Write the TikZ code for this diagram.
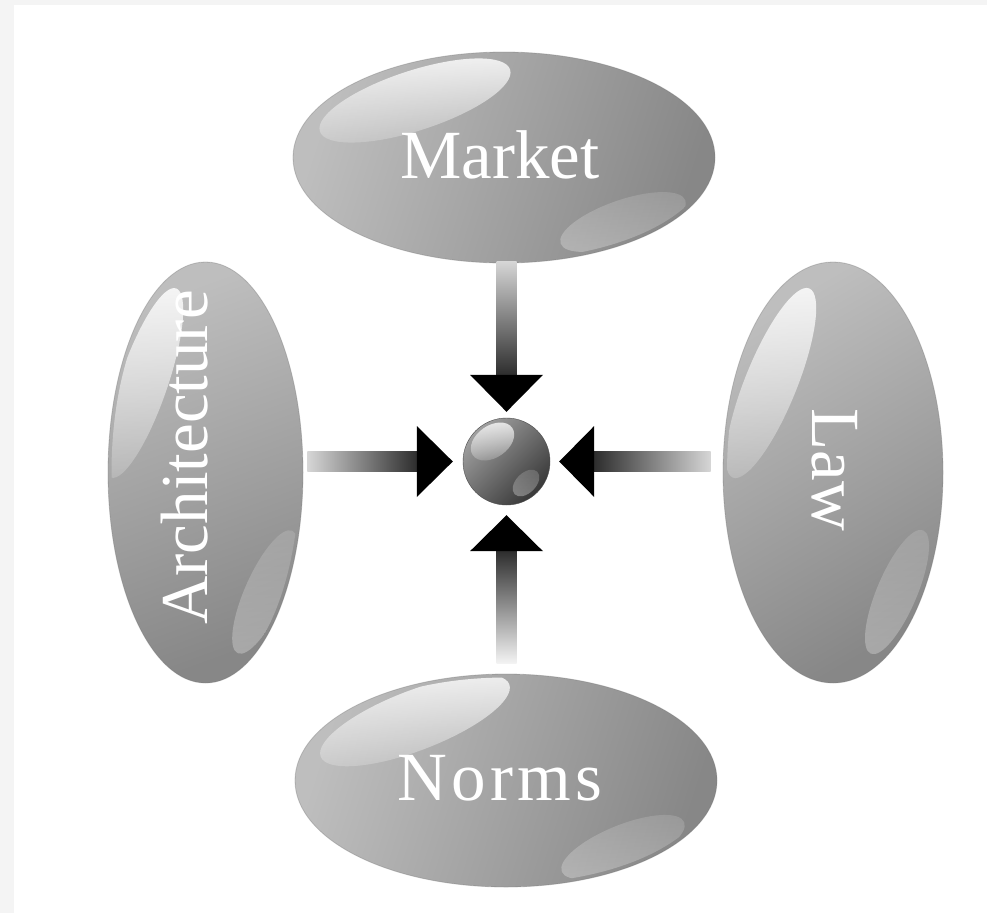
\documentclass[tikz,border=0pt]{standalone}
\usepackage{fontspec}
\setmainfont{Liberation Serif}
\usetikzlibrary{shapes.geometric,calc,fadings}
\definecolor{framegray}{HTML}{F4F4F4}
\definecolor{pillL}{HTML}{BEBEBE}
\definecolor{pillD}{HTML}{878787}
\definecolor{shaftD}{HTML}{2C2C2C}
\definecolor{shaftL}{HTML}{D6D6D6}
\definecolor{shaftW}{HTML}{F4F4F4}
\definecolor{sphL}{HTML}{A0A0A0}
\definecolor{sphD}{HTML}{383838}
\tikzfading[name=glossfade, top color=transparent!0, bottom color=transparent!80]
\tikzfading[name=sheenfade, top color=transparent!55, bottom color=transparent!5]
\begin{document}
\begin{tikzpicture}[x=1pt,y=-1pt,
  pill/.style={ellipse, inner sep=0pt, left color=pillL, right color=pillD,
    draw=black!55, draw opacity=0.35, line width=0.8pt},
  lbl/.style={text=white, font=\fontsize{69}{69}\selectfont, inner sep=0pt, anchor=base},
  gloss/.style={white, fill opacity=0.85, path fading=glossfade},
  sheen/.style={white, fill opacity=0.3, path fading=sheenfade},
  head/.style={fill=black},
]
% frame
\fill[framegray] (0,0) rectangle (987,913);
\fill[white] (14,5) rectangle (987,913);
\useasboundingbox (0,0) rectangle (987,913);

% pills
\node[pill, shading angle=72, minimum width=422pt, minimum height=211pt] (mkt) at (504,157.5) {};
\node[pill, shading angle=72, minimum width=422pt, minimum height=213pt] (nrm) at (506,780.5) {};
\node[pill, shading angle=20, minimum width=195pt, minimum height=421pt] (arc) at (205.5,472.5) {};
\node[pill, shading angle=30, minimum width=220pt, minimum height=421pt] (law) at (833,472.5) {};

% gloss highlights (clipped to each pill)
\begin{scope}
\clip (mkt.center) ellipse [x radius=207, y radius=102];
\coordinate (mktA) at ($(mkt.center)+(-89,-57)$);
\coordinate (mktB) at ($(mkt.center)+(119,64.5)$);
\fill[gloss, rotate around={18:(mktA)}] (mktA) ellipse [x radius=100, y radius=30];
\fill[sheen, rotate around={19:(mktB)}] (mktB) ellipse [x radius=66, y radius=22];
\end{scope}

\begin{scope}
\clip (nrm.center) ellipse [x radius=207, y radius=103];
\coordinate (nrmA) at ($(nrm.center)+(-91,-60)$);
\coordinate (nrmB) at ($(nrm.center)+(117,66.5)$);
\fill[gloss, rotate around={21:(nrmA)}] (nrmA) ellipse [x radius=101, y radius=30];
\fill[sheen, rotate around={22:(nrmB)}] (nrmB) ellipse [x radius=66, y radius=22];
\end{scope}

\begin{scope}
\clip (arc.center) ellipse [x radius=94, y radius=207];
\coordinate (arcA) at ($(arc.center)+(-62,-89.5)$);
\coordinate (arcB) at ($(arc.center)+(59.5,119.5)$);
\fill[gloss, rotate around={71:(arcA)}] (arcA) ellipse [x radius=100, y radius=24];
\fill[sheen, rotate around={66:(arcB)}] (arcB) ellipse [x radius=67, y radius=20];
\end{scope}

\begin{scope}
\clip (law.center) ellipse [x radius=106, y radius=207];
\coordinate (lawA) at ($(law.center)+(-62,-89.5)$);
\coordinate (lawB) at ($(law.center)+(64,119.5)$);
\fill[gloss, rotate around={68:(lawA)}] (lawA) ellipse [x radius=102, y radius=26];
\fill[sheen, rotate around={67:(lawB)}] (lawB) ellipse [x radius=67, y radius=20];
\end{scope}

% labels
\node[lbl] (mktT) at (500,178) {Market};
\node[lbl] (nrmT) at (500,800) {\addfontfeatures{LetterSpace=6}Norms};
\node[lbl, rotate=90, font=\fontsize{67}{67}\selectfont] (arcT) at (207,457.5) {Architecture};
\node[lbl, rotate=-90] (lawT) at (812,470) {Law};

% central sphere
\node[circle, inner sep=0pt, minimum size=87pt, left color=sphL, right color=sphD,
  shading angle=45, draw=black!70, line width=0.4pt] (hub) at (506.5,461.5) {};
\begin{scope}
\clip (hub.center) circle [radius=41];
\coordinate (hubA) at ($(hub.center)+(-14,-20)$);
\coordinate (hubB) at ($(hub.center)+(19.5,21.5)$);
\fill[white, fill opacity=0.8, path fading=glossfade, rotate around={35:(hubA)}] (hubA) ellipse [x radius=24, y radius=16];
\fill[white, fill opacity=0.35, path fading=sheenfade, rotate around={45:(hubB)}] (hubB) ellipse [x radius=16, y radius=10];
\end{scope}

% top arrow: Market -> hub
\coordinate (tipT) at ($(hub.north)+(0,-6)$);
\shade[top color=shaftL, bottom color=shaftD] ($(mkt.south -| hub)+(-10,-2)$) rectangle ($(tipT)+(10,-36)$);
\fill[head] (tipT) -- ++(-36.5,-37) -- ++(73,0) -- cycle;

% bottom arrow: Norms -> hub
\coordinate (tipB) at ($(hub.south)+(0,10)$);
\shade[top color=shaftD, bottom color=shaftW] ($(tipB)+(-10,35)$) rectangle ($(nrm.north -| hub)+(10,-10)$);
\fill[head] (tipB) -- ++(-36.5,36) -- ++(73,0) -- cycle;

% left arrow: Architecture -> hub
\coordinate (tipL) at ($(hub.west)+(-10,0)$);
\shade[left color=shaftL, right color=shaftD] ($(arc.east |- hub)+(4,-10)$) rectangle ($(tipL)+(-35,10)$);
\fill[head] (tipL) -- ++(-36,-35.5) -- ++(0,71) -- cycle;

% right arrow: Law -> hub
\coordinate (tipR) at ($(hub.east)+(9,0)$);
\shade[left color=shaftD, right color=shaftL] ($(tipR)+(34,-10)$) rectangle ($(law.west |- hub)+(-12,10)$);
\fill[head] (tipR) -- ++(35,-35.5) -- ++(0,71) -- cycle;
\end{tikzpicture}
\end{document}
